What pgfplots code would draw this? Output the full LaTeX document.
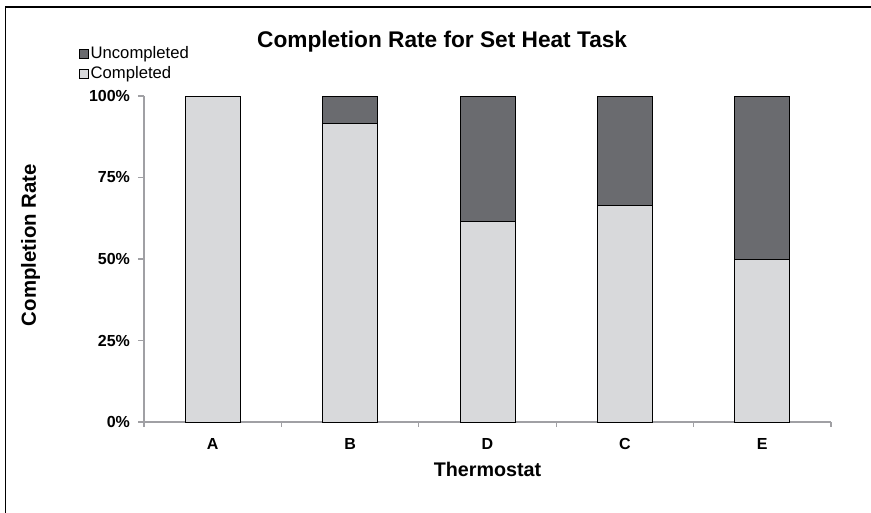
\documentclass[border=0pt]{standalone}
\usepackage{pgfplots}
\pgfplotsset{compat=1.18}
\usepackage{fontspec}
\setmainfont{Liberation Sans}
\definecolor{darkbar}{RGB}{106,107,111}
\definecolor{lightbar}{RGB}{216,217,219}
\definecolor{axisgray}{RGB}{160,160,164}
\begin{document}
\begin{tikzpicture}
\path[use as bounding box] (0pt,0pt) rectangle (653.25pt,-384pt);
\draw[line width=1.3pt] (4.1pt,-400pt) -- (4.1pt,-5.5pt) -- (670pt,-5.5pt);
\begin{axis}[
  at={(108pt,-316.5pt)}, anchor=south west,
  scale only axis, width=515.25pt, height=244.5pt,
  xmin=-0.5, xmax=4.5, ymin=0, ymax=100,
  axis lines=left,
  axis line style={draw=axisgray, line width=0.8pt, -},
  ybar stacked, bar width=0.4,
  ytick={0,25,50,75,100},
  yticklabel={\pgfmathprintnumber{\tick}\%},
  /pgf/number format/assume math mode=true,
  tick align=outside,
  major tick length=4.5pt,
  ytick style={draw=axisgray, line width=0.8pt},
  xtick={0,1,2,3,4},
  xticklabels={A,B,D,C,E},
  xtick style={draw=none},
  extra x ticks={-0.5,0.5,1.5,2.5,3.5,4.5},
  extra x tick labels={},
  extra x tick style={xtick style={draw=axisgray, line width=0.8pt}, major tick length=3.75pt},
  ticklabel style={font=\bfseries\fontsize{12}{14}\selectfont},
  xticklabel style={yshift=-4pt},
  yticklabel style={xshift=-2.5pt},
  title={Completion Rate for Set Heat Task},
  title style={at={(axis description cs:0.434,1.143)}, anchor=center, font=\bfseries\fontsize{17}{20}\selectfont},
  xlabel={Thermostat},
  xlabel style={at={(axis description cs:0.5,-0.147)}, anchor=center, font=\bfseries\fontsize{14.8}{17}\selectfont},
  ylabel={Completion Rate},
  ylabel style={at={(axis description cs:-0.165,0.543)}, anchor=center, font=\bfseries\fontsize{15.3}{17}\selectfont},
  reverse legend,
  legend cell align=left,
  legend style={at={(axis description cs:-0.0946,1.158)}, anchor=north west, draw=none, fill=none,
    inner sep=0pt, row sep=2pt, font=\fontsize{12.5}{14}\selectfont,
    nodes={inner sep=1.3pt}},
  legend image code/.code={\draw[#1, draw=black, line width=0.6pt] (0pt,-3.3pt) rectangle (6.6pt,3.3pt);},
]
\addplot[fill=lightbar, draw=black, line width=0.6pt] coordinates {(0,100) (1,91.7) (2,61.6) (3,66.5) (4,50)};
\addplot[fill=darkbar, draw=black, line width=0.6pt] coordinates {(0,0) (1,8.3) (2,38.4) (3,33.5) (4,50)};
\legend{Completed,Uncompleted}
\end{axis}
\end{tikzpicture}
\end{document}
